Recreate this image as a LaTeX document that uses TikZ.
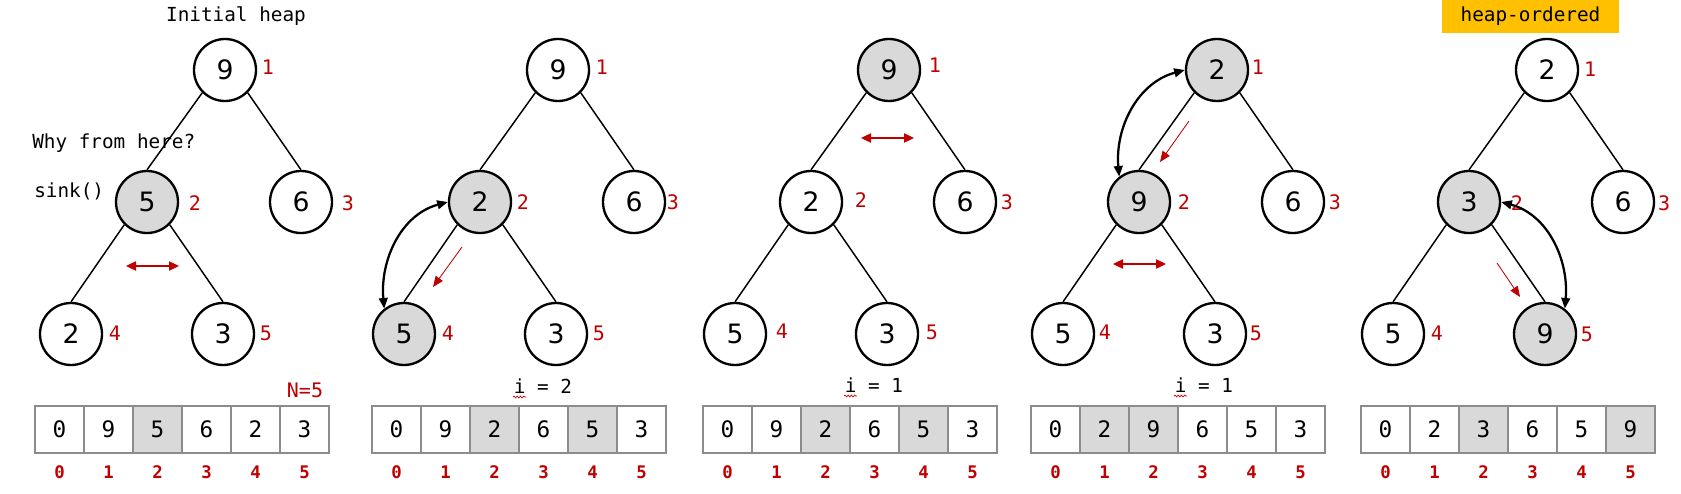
\documentclass[tikz,border=0pt]{standalone}
\usepackage{fontspec}
\setmonofont{DejaVu Sans Mono}
\newfontfamily\dvsans{DejaVu Sans}
\usetikzlibrary{arrows.meta,decorations.pathmorphing}
\definecolor{hred}{HTML}{C00000}
\definecolor{hgray}{HTML}{D9D9D9}
\definecolor{hborder}{HTML}{8C8C8C}
\definecolor{horange}{HTML}{FFC000}
\tikzset{
 hnode/.style={circle, draw=black, line width=1.75pt, fill=white, minimum size=46.5pt, inner sep=0pt, font=\dvsans\fontsize{20}{22}\selectfont},
 hot/.style={hnode, fill=hgray},
 tedge/.style={line width=1.1pt},
 lbl/.style={text=hred, font=\ttfamily\fontsize{15}{17}\selectfont, inner sep=0pt},
 cell/.style={rectangle, draw=hborder, line width=1.5pt, minimum width=36.75pt, minimum height=35.25pt, inner sep=0pt, font=\ttfamily\fontsize{17}{19}\selectfont},
 idx/.style={text=hred, font=\ttfamily\bfseries\fontsize{13}{15}\selectfont, inner sep=0pt},
 txt/.style={font=\ttfamily\fontsize{14.5}{16}\selectfont, inner sep=0pt},
 swaparrow/.style={line width=1.7pt, {Triangle[length=8pt,width=6.5pt]}-{Triangle[length=8pt,width=6.5pt]}},
 cmparrow/.style={draw=hred, fill=hred, line width=0.9pt, {Triangle[length=7.5pt,width=7pt]}-{Triangle[length=7.5pt,width=7pt]}},
 mvarrow/.style={draw=hred, fill=hred, line width=0.6pt, -{Triangle[length=8pt,width=6.5pt]}},
 squig/.style={draw=hred, line width=0.5pt, decorate, decoration={snake, amplitude=0.7pt, segment length=2.4pt}},
}
\newcommand\arrayrow[3]{%
  \foreach \v/\f [count=\i from 0] in {#3} {
    \node[cell, fill=\f] (#1c\i) at (#2+24.5+49*\i, 429.5) {\v};
    \node[idx] (#1i\i) at (#2+24.5+49*\i, 472) {\i};
  }}
\begin{document}
\begin{tikzpicture}[x=0.75pt,y=-0.75pt]
\useasboundingbox[fill=white] (0,0) rectangle (1681,493);

% ---------------- Panel 1 ----------------
\node[txt, anchor=base] (t1) at (236,21) {Initial heap};
\node[txt, anchor=base west] (why) at (32,148) {Why from here?};
\node[txt, anchor=base west] (sink) at (34,197) {sink()};
\node[hnode] (p1r) at (225,70) {9};
\node[hot]   (p1a) at (147,202) {5};
\node[hnode] (p1b) at (301,202) {6};
\node[hnode] (p1c) at (71,334) {2};
\node[hnode] (p1d) at (223,334) {3};
\node[lbl] (p1l1) at (268,67) {1};
\node[lbl] (p1l2) at (195,203) {2};
\node[lbl] (p1l3) at (348,203) {3};
\node[lbl] (p1l4) at (115,333) {4};
\node[lbl] (p1l5) at (266,333) {5};
\draw[tedge] (p1r.225) -- (p1a.north);
\draw[tedge] (p1r.-45) -- (p1b.north);
\draw[tedge] (p1a.225) -- (p1c.north);
\draw[tedge] (p1a.-45) -- (p1d.north);
\coordinate (p1x1) at (126,266);
\coordinate (p1x2) at (179,266);
\draw[cmparrow] (p1x1) -- (p1x2);
\node[lbl, anchor=base] (n5) at (305,397) {N=5};
\arrayrow{a1}{35}{0/white,9/white,5/hgray,6/white,2/white,3/white}

% ---------------- Panel 2 ----------------
\node[hnode] (p2r) at (558,70) {9};
\node[hot]   (p2a) at (480,202) {2};
\node[hnode] (p2b) at (634,202) {6};
\node[hot]   (p2c) at (404,334) {5};
\node[hnode] (p2d) at (556,334) {3};
\node[lbl] (p2l1) at (602,67) {1};
\node[lbl] (p2l2) at (523,202) {2};
\node[lbl] (p2l3) at (673,202) {3};
\node[lbl] (p2l4) at (448,333) {4};
\node[lbl] (p2l5) at (599,333) {5};
\draw[tedge] (p2r.225) -- (p2a.north);
\draw[tedge] (p2r.-45) -- (p2b.north);
\draw[tedge] (p2a.225) -- (p2c.north);
\draw[tedge] (p2a.-45) -- (p2d.north);
\draw[swaparrow] (p2a.west) to[out=195, in=95] (p2c.128);
\coordinate (p2m1) at (462,247);
\coordinate (p2m2) at (433,287);
\draw[mvarrow] (p2m1) -- (p2m2);
\node[txt, anchor=base] (i2) at (543,393) {i = 2};
\draw[squig] (513,397) -- (526,397);
\arrayrow{a2}{372}{0/white,9/white,2/hgray,6/white,5/hgray,3/white}

% ---------------- Panel 3 ----------------
\node[hot]   (p3r) at (889,70) {9};
\node[hnode] (p3a) at (811,202) {2};
\node[hnode] (p3b) at (965,202) {6};
\node[hnode] (p3c) at (735,334) {5};
\node[hnode] (p3d) at (887,334) {3};
\node[lbl] (p3l1) at (935,65) {1};
\node[lbl] (p3l2) at (861,200) {2};
\node[lbl] (p3l3) at (1007,202) {3};
\node[lbl] (p3l4) at (782,331) {4};
\node[lbl] (p3l5) at (932,332) {5};
\draw[tedge] (p3r.225) -- (p3a.north);
\draw[tedge] (p3r.-45) -- (p3b.north);
\draw[tedge] (p3a.225) -- (p3c.north);
\draw[tedge] (p3a.-45) -- (p3d.north);
\coordinate (p3x1) at (861,138);
\coordinate (p3x2) at (914,138);
\draw[cmparrow] (p3x1) -- (p3x2);
\node[txt, anchor=base] (i3) at (874,392) {i = 1};
\draw[squig] (844,396) -- (857,396);
\arrayrow{a3}{703}{0/white,9/white,2/hgray,6/white,5/hgray,3/white}

% ---------------- Panel 4 ----------------
\node[hot]   (p4r) at (1217,70) {2};
\node[hot]   (p4a) at (1139,202) {9};
\node[hnode] (p4b) at (1293,202) {6};
\node[hnode] (p4c) at (1063,334) {5};
\node[hnode] (p4d) at (1215,334) {3};
\node[lbl] (p4l1) at (1258,67) {1};
\node[lbl] (p4l2) at (1184,202) {2};
\node[lbl] (p4l3) at (1335,202) {3};
\node[lbl] (p4l4) at (1105,332) {4};
\node[lbl] (p4l5) at (1256,333) {5};
\draw[tedge] (p4r.225) -- (p4a.north);
\draw[tedge] (p4r.-45) -- (p4b.north);
\draw[tedge] (p4a.225) -- (p4c.north);
\draw[tedge] (p4a.-45) -- (p4d.north);
\draw[swaparrow] (p4r.west) to[out=195, in=95] (p4a.128);
\coordinate (p4m1) at (1189,121);
\coordinate (p4m2) at (1160,162);
\draw[mvarrow] (p4m1) -- (p4m2);
\coordinate (p4x1) at (1113,264);
\coordinate (p4x2) at (1166,264);
\draw[cmparrow] (p4x1) -- (p4x2);
\node[txt, anchor=base] (i4) at (1204,392) {i = 1};
\draw[squig] (1174,396) -- (1187,396);
\arrayrow{a4}{1031}{0/white,2/hgray,9/hgray,6/white,5/white,3/white}

% ---------------- Panel 5 ----------------
\node[fill=horange, minimum width=132.75pt, minimum height=24.75pt, inner sep=0pt] (ho) at (1530.5,16.5) {};
\node[txt, anchor=base] (hot5) at (1530.5,21) {heap-ordered};
\node[hnode] (p5r) at (1547,70) {2};
\node[hot]   (p5a) at (1469,202) {3};
\node[hnode] (p5b) at (1623,202) {6};
\node[hnode] (p5c) at (1393,334) {5};
\node[hot]   (p5d) at (1545,334) {9};
\node[lbl] (p5l1) at (1590,69) {1};
\node[lbl] (p5l3) at (1664,203) {3};
\node[lbl] (p5l4) at (1437,333) {4};
\node[lbl] (p5l5) at (1587,334) {5};
\draw[tedge] (p5r.225) -- (p5a.north);
\draw[tedge] (p5r.-45) -- (p5b.north);
\draw[tedge] (p5a.225) -- (p5c.north);
\draw[tedge] (p5a.-45) -- (p5d.north);
\node[lbl] (p5l2) at (1517,203) {2};
\draw[swaparrow] (p5a.east) to[out=-15, in=85] (p5d.52);
\coordinate (p5m1) at (1497,263);
\coordinate (p5m2) at (1520,297);
\draw[mvarrow] (p5m1) -- (p5m2);
\arrayrow{a5}{1361}{0/white,2/white,3/hgray,6/white,5/white,9/hgray}
\end{tikzpicture}
\end{document}
